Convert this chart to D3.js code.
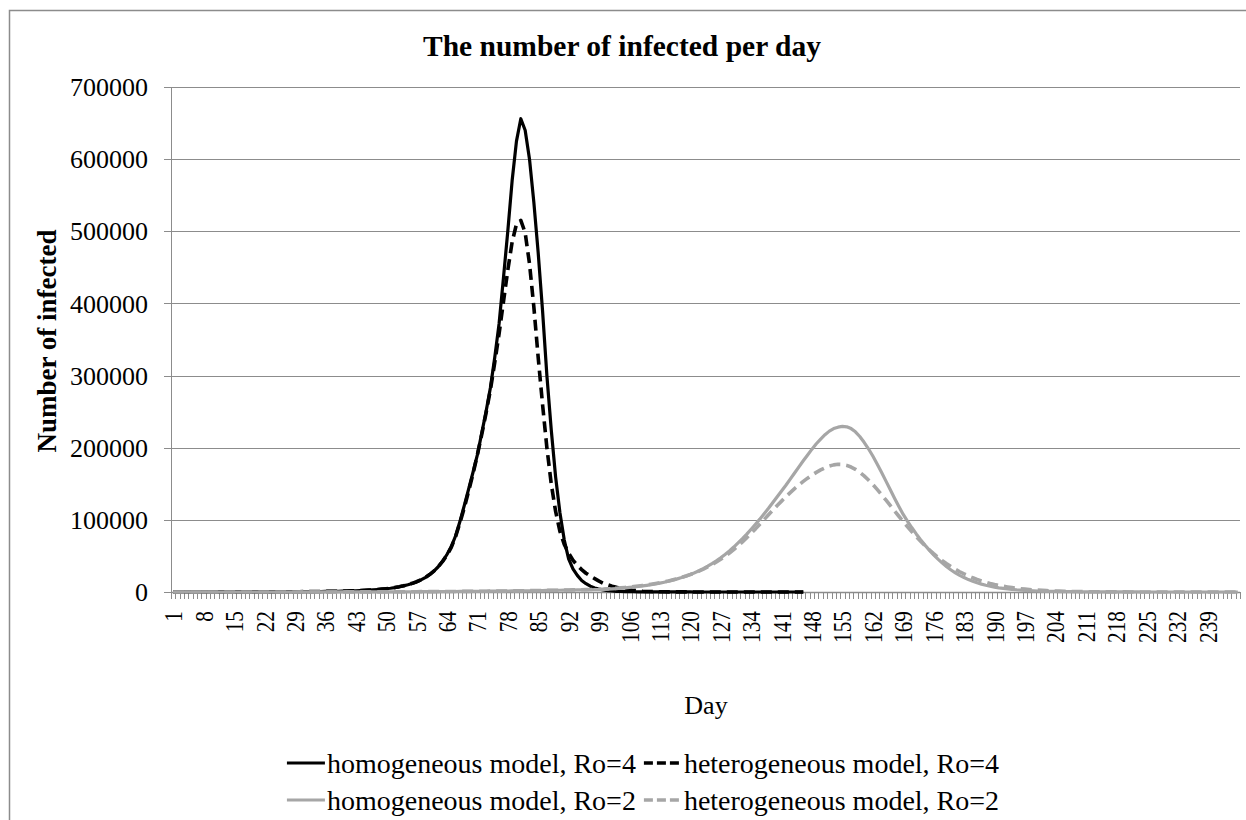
<!DOCTYPE html>
<html><head><meta charset="utf-8">
<script src="https://cdn.jsdelivr.net/npm/d3@7"></script>
<style>html,body{margin:0;padding:0;background:#fff;overflow:hidden}text{font-family:"Liberation Serif","Times New Roman",serif;fill:#000}</style>
</head><body>
<script>
const days = d3.range(1, 247);
const xTickLabels = [1,8,15,22,29,36,43,50,57,64,71,78,85,92,99,106,113,120,127,134,141,148,155,162,169,176,183,190,197,204,211,218,225,232,239];
const yTicks = [0,100000,200000,300000,400000,500000,600000,700000];
const seriesNames = ["homogeneous model, Ro=4","heterogeneous model, Ro=4","homogeneous model, Ro=2","heterogeneous model, Ro=2"];

const homoR4 = [
10,12,14,16,19,22,25,29,33,38,
44,50,57,65,74,84,95,108,122,138,
156,174,194,216,240,266,294,324,356,388,
420,470,520,580,650,730,820,920,1030,1150,
1300,1470,1670,1900,2200,2550,2950,3400,3900,4500,
5200,6100,7200,8500,10000,11800,14000,16700,20000,24000,
29000,35000,42500,52000,63000,78000,98000,120000,143000,166000,
190000,220000,250000,283000,325000,372000,435000,500000,570000,625000,
656000,640000,600000,540000,470000,390000,300000,225000,160000,110000,
72000,46000,32000,23000,16000,11500,8000,5500,4000,2800,
2000,1400,1000,750,550,420,330,260,210,170,
140,120,100,85,72,62,54,47,41,36,
32,28,25,22,20,18,16,14,12,11,
10,9,8,7,6,6,5,5,4,4,
4,3,3,3,2,2];
const hetR4 = [
11,13,15,18,21,24,28,32,36,42,
48,55,63,72,81,92,104,118,134,151,
170,190,212,236,262,290,320,352,386,422,
460,510,565,625,700,780,870,975,1090,1220,
1380,1560,1770,2010,2300,2650,3050,3500,4000,4600,
5300,6250,7400,8700,10200,12000,14200,16900,20200,24200,
29000,35000,42500,51000,62000,77000,96000,117000,140000,164000,
190000,218000,248000,280000,318000,358000,402000,446000,485000,510000,
515000,498000,455000,395000,325000,260000,200000,150000,112000,84000,
66000,54000,44000,37000,31000,26000,22000,18500,15000,12000,
10000,8000,6500,5200,4000,3000,2200,1600,1100,800,
600,460,360,290,240,200,170,145,125,110,
96,85,75,67,60,54,49,44,40,36,
33,30,27,25,23,21,19,17,16,15,
14,13,12,11,10,9];
const homoR2 = [
2,2,3,3,3,4,4,5,5,6,
6,7,8,8,9,10,11,12,13,15,
16,18,19,21,23,25,28,30,33,36,
40,44,48,52,57,62,68,75,82,90,
98,108,118,129,141,154,168,184,201,220,
240,262,286,312,340,370,400,430,460,495,
530,565,600,640,680,720,765,810,860,910,
960,1010,1065,1120,1180,1240,1300,1370,1440,1510,
1590,1670,1750,1840,1930,2030,2130,2230,2340,2450,
2560,2650,2740,2830,2920,3010,3100,3200,3330,3500,
3850,4250,4700,5200,5700,6300,6950,7650,8450,9300,
10200,11200,12300,13600,15000,16500,18200,20000,22000,24200,
26700,29400,32400,35700,39300,43200,47400,52000,57000,62300,
68000,74000,80300,87000,94000,101000,108500,116000,124000,132000,
140000,148000,156500,165000,173500,182000,190000,198000,205500,212000,
218000,223000,226500,228500,229500,229000,226500,222000,215500,207500,
198500,188500,177500,166000,154000,142000,130000,118500,107500,98000,
89000,80500,72500,65000,58000,51500,45500,40000,35000,30500,
26500,23000,20000,17200,14800,12700,10900,9300,8000,6800,
5800,5000,4300,3700,3100,2700,2300,1950,1650,1400,
1200,1020,870,740,630,540,460,390,330,280,
240,205,175,150,128,109,93,79,67,57,
49,42,36,31,26,22,19,16,14,12,
10,9,8,7,6,5,4,4,3,3,
3,2,2,2,2,1];
const hetR2 = [
2,3,3,3,4,4,5,5,6,6,
7,8,8,9,10,11,12,13,15,16,
18,19,21,23,25,28,30,33,36,40,
44,48,52,57,62,68,75,82,90,98,
108,118,129,141,154,168,184,201,220,240,
262,286,312,340,370,400,430,460,495,530,
565,600,640,680,720,765,810,860,910,960,
1010,1065,1120,1180,1240,1300,1370,1440,1510,1590,
1670,1750,1840,1930,2030,2130,2230,2340,2450,2560,
2680,2800,2920,3040,3160,3280,3400,3550,3750,3950,
4300,4750,5200,5700,6250,6850,7500,8250,9050,9900,
10800,11800,12900,14100,15400,16900,18500,20200,22100,24200,
26500,29000,31800,34800,38000,41500,45300,49500,54000,58800,
64000,69500,75300,81300,87500,94000,100500,107000,113500,120000,
126000,132000,137800,143300,148500,153300,157800,162000,165800,169300,
172200,174500,176200,177000,176800,175500,173200,170000,166000,161000,
155300,149000,142200,135000,127600,120000,112500,105000,97600,90400,
83500,76800,70400,64300,58600,53200,48200,43500,39200,35200,
31500,28100,25000,22200,19700,17400,15400,13600,11900,10400,
9100,7950,6950,6050,5250,4550,3950,3400,2950,2550,
2200,1900,1640,1410,1210,1040,890,760,650,560,
480,410,350,300,255,218,186,159,136,116,
99,85,72,62,53,45,38,33,28,24,
20,17,15,13,11,9,8,7,6,5,
4,4,3,3,2,2];

const W = 1246, H = 820;
const svg = d3.select("body").append("svg").attr("width", W).attr("height", H);
const grey = "#8c8c8c";
svg.append("rect").attr("x", 9.5).attr("y", 10.5).attr("width", 1300).attr("height", 900)
  .attr("fill", "#fff").attr("stroke", grey).attr("stroke-width", 1.5);

const x = d3.scaleBand().domain(days).range([171, 1240]);
const y = d3.scaleLinear().domain([0, 700000]).range([592, 87]);
const bw = x.bandwidth();

// gridlines
svg.append("g").selectAll("line").data(yTicks).join("line")
  .attr("x1", 164).attr("x2", 1240).attr("y1", d => Math.round(y(d)) + 0.5).attr("y2", d => Math.round(y(d)) + 0.5)
  .attr("stroke", grey).attr("stroke-width", 1);
svg.append("line").attr("x1", 171.5).attr("x2", 171.5).attr("y1", y(700000)).attr("y2", y(0))
  .attr("stroke", grey).attr("stroke-width", 1);
svg.append("g").selectAll("text").data(yTicks).join("text")
  .attr("x", 148).attr("y", d => y(d)).attr("dy", "0.35em").attr("text-anchor", "end")
  .style("font-size", "26px").text(d => d);

// x minor ticks at category boundaries
const bounds = days.map(d => x(d)).concat([x(days[days.length - 1]) + bw]);
svg.append("g").selectAll("line").data(bounds).join("line")
  .attr("x1", d => Math.round(d) + 0.5).attr("x2", d => Math.round(d) + 0.5)
  .attr("y1", 592).attr("y2", 599).attr("stroke", grey).attr("stroke-width", 1);
svg.append("line").attr("x1", 171).attr("x2", 1240).attr("y1", 592.5).attr("y2", 592.5)
  .attr("stroke", grey).attr("stroke-width", 1.5);

svg.append("g").selectAll("text").data(xTickLabels).join("text")
  .attr("transform", d => `translate(${x(d) + bw / 2},611) rotate(-90) scale(0.82,1)`)
  .attr("text-anchor", "end").attr("dy", "0.35em")
  .style("font-size", "26px").text(d => d);

const line = d3.line().x((v, i) => x(days[i]) + bw / 2).y(v => y(v));
const styles = [
  {data: homoR4, color: "#000", dash: null, w: 3.2},
  {data: hetR4, color: "#000", dash: "11,6", w: 3.6},
  {data: homoR2, color: "#a6a6a6", dash: null, w: 3.2},
  {data: hetR2, color: "#a6a6a6", dash: "11,6", w: 3.6}
];
styles.forEach(s => {
  svg.append("path").attr("d", line(s.data)).attr("fill", "none")
    .attr("stroke", s.color).attr("stroke-width", s.w)
    .attr("stroke-dasharray", s.dash).attr("stroke-linejoin", "round");
});

svg.append("text").attr("x", 622).attr("y", 56).attr("text-anchor", "middle")
  .style("font-size", "29.5px").style("font-weight", "bold").text("The number of infected per day");
svg.append("text").attr("transform", "translate(56,341) rotate(-90)").attr("text-anchor", "middle")
  .style("font-size", "27px").style("font-weight", "bold").text("Number of infected");
svg.append("text").attr("x", 706).attr("y", 714).attr("text-anchor", "middle")
  .style("font-size", "26px").text("Day");

// legend: two columns, laid out from measured text widths, spanning ~283..1003
const leg = svg.append("g");
const rowsY = [763, 800];
const legFont = 28;
const symL = 38, symGap = 2, colGap = 8;
const texts = styles.map((s, i) => leg.append("text").attr("dy", "0.35em")
  .style("font-size", legFont + "px").text(seriesNames[i]));
const widths = texts.map(t => t.node().getComputedTextLength());
const colW = Math.max(widths[0], widths[2]) + symL + symGap + colGap;
const totalW = colW + symL + symGap + Math.max(widths[1], widths[3]);
const startX = 643 - totalW / 2;
styles.forEach((s, i) => {
  const r = Math.floor(i / 2), c = i % 2;
  const x0 = startX + c * colW, yy = rowsY[r];
  leg.append("line").attr("x1", x0).attr("x2", x0 + symL).attr("y1", yy).attr("y2", yy)
    .attr("stroke", s.color).attr("stroke-width", s.w).attr("stroke-dasharray", s.dash ? "9,4" : null);
  texts[i].attr("x", x0 + symL + symGap).attr("y", yy);
});
</script>
</body></html>
